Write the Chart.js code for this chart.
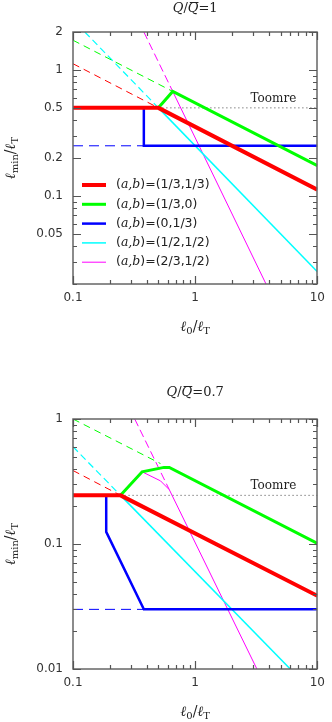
<!DOCTYPE html>
<html>
<head>
<meta charset="utf-8">
<script src="https://cdn.jsdelivr.net/npm/chart.js@4.4.0/dist/chart.umd.min.js"></script>
<style>
body{margin:0;background:#fff;}
canvas{position:absolute;left:0;}
#myChart{top:0;}
#myChart2{top:361px;}
</style>
</head>
<body>
<canvas id="myChart" width="332" height="361"></canvas>
<canvas id="myChart2" width="332" height="361"></canvas>
<script>
// tick labels
const x_ticks = [0.1, 1, 10];
const y_ticks1 = [2, 1, 0.5, 0.2, 0.1, 0.05];
const y_ticks2 = [1, 0.1, 0.01];
const ab_labels = ['(1/3,1/3)', '(1/3,0)', '(0,1/3)', '(1/2,1/2)', '(2/3,1/2)'];

// panel 1, Q/Qbar = 1   [l0/lT, lmin/lT]
const red1 = [[0.1, 0.5], [0.5, 0.5], [10, 0.112]];
const red1_dash = [[0.1, 1.12], [0.5, 0.5]];
const green1 = [[0.5, 0.5], [0.655, 0.675], [10, 0.174]];
const green1_dash = [[0.1, 1.72], [0.655, 0.675]];
const blue1 = [[0.38, 0.5], [0.38, 0.25], [10, 0.25]];
const blue1_dash = [[0.1, 0.25], [0.38, 0.25]];
const cyan1 = [[0.5, 0.5], [10, 0.025]];
const cyan1_dash = [[0.125, 2], [0.5, 0.5]];
const magenta1 = [[0.655, 0.675], [3.8, 0.02]];
const magenta1_dash = [[0.38, 2], [0.655, 0.675]];
const toomre1 = [[0.5, 0.5], [10, 0.5]];

// panel 2, Q/Qbar = 0.7
const red2 = [[0.1, 0.245], [0.245, 0.245], [10, 0.0385]];
const red2_dash = [[0.1, 0.387], [0.245, 0.245]];
const green2 = [[0.245, 0.245], [0.368, 0.378], [0.555, 0.41], [0.614, 0.41], [10, 0.101]];
const green2_dash = [[0.1, 1], [0.52, 0.44]];
const blue2 = [[0.187, 0.245], [0.187, 0.125], [0.38, 0.03], [10, 0.03]];
const blue2_dash = [[0.1, 0.03], [0.38, 0.03]];
const cyan2 = [[0.245, 0.245], [6, 0.01]];
const cyan2_dash = [[0.1, 0.6], [0.245, 0.245]];
const magenta2 = [[0.368, 0.378], [0.52, 0.32], [0.614, 0.272], [3.2, 0.01]];
const magenta2_dash = [[0.32, 1], [0.614, 0.272]];
const toomre2 = [[0.245, 0.245], [10, 0.245]];

const RED = '#ff0000', GREEN = '#00ff00', BLUE = '#0000ff', CYAN = '#00ffff', MAGENTA = '#ff00ff';

function line(pts, color, width, dash, legend){
    return {
        data: pts.map(p => ({x: p[0], y: p[1]})),
        borderColor: color,
        backgroundColor: color,
        borderWidth: width,
        borderDash: dash || [],
        pointRadius: 0,
        tension: 0,
        fill: false,
        legendLabel: legend
    };
}

function pick(v, list){
    for (const l of list) {
        if (Math.abs(v - l) / l < 1e-6) return String(l);
    }
    return '';
}

// 1..9 x 10^n values between min and max of a log scale
function logSteps(min, max){
    const out = [];
    for (let e = Math.floor(Math.log10(min)) - 1; e <= Math.ceil(Math.log10(max)); e++) {
        for (let m = 1; m <= 9; m++) {
            const v = m * Math.pow(10, e);
            if (v >= min * 0.9999 && v <= max * 1.0001) out.push(v);
        }
    }
    return out;
}

// draw a run of text pieces centred on x: [text, font, dy, overline]
function textParts(ctx, parts, x, y){
    let w = 0;
    parts.forEach(p => { ctx.font = p[1]; w += ctx.measureText(p[0]).width; });
    let cx = x - w / 2;
    parts.forEach(p => {
        ctx.font = p[1];
        const pw = ctx.measureText(p[0]).width;
        ctx.fillText(p[0], cx, y + (p[2] || 0));
        if (p[3]) ctx.fillRect(cx + 2, y - 7, pw - 2, 1);
        cx += pw;
    });
}

const SERIF = '"DejaVu Serif"';
const SANS = '"DejaVu Sans"';

const panelPlugin = {
    id: 'panel',
    afterDraw(chart){
        const opts = chart.options.plugins.panel;
        const ctx = chart.ctx;
        const a = chart.chartArea;
        const xs = chart.scales.x, ys = chart.scales.y;
        const L = Math.round(a.left), R = Math.round(a.right), T = Math.round(a.top), B = Math.round(a.bottom);
        ctx.save();
        ctx.setLineDash([]);
        // frame
        ctx.strokeStyle = '#666';
        ctx.lineWidth = 1.5;
        ctx.strokeRect(L, T, R - L, B - T);
        // inner ticks on all four sides
        ctx.lineWidth = 1.2;
        ctx.strokeStyle = '#555';
        ctx.beginPath();
        logSteps(0.1, 10).forEach(v => {
            const px = Math.round(xs.getPixelForValue(v)) + 0.5;
            const len = pick(v, x_ticks) ? 8 : 4;
            ctx.moveTo(px, B); ctx.lineTo(px, B - len);
            ctx.moveTo(px, T); ctx.lineTo(px, T + len);
        });
        logSteps(opts.ymin, opts.ymax).forEach(v => {
            const py = Math.round(ys.getPixelForValue(v)) + 0.5;
            const len = pick(v, opts.yTicks) ? 8 : 4;
            ctx.moveTo(L, py); ctx.lineTo(L + len, py);
            ctx.moveTo(R, py); ctx.lineTo(R - len, py);
        });
        ctx.stroke();

        ctx.fillStyle = '#222';
        ctx.textBaseline = 'middle';
        ctx.textAlign = 'left';
        const cx = (a.left + a.right) / 2;
        // title
        textParts(ctx, [
            ['Q', 'italic 13px ' + SERIF],
            ['/', '13px ' + SERIF],
            ['Q', 'italic 13px ' + SERIF, 0, true],
            ['=' + opts.q, '13px ' + SERIF]
        ], cx, a.top - opts.titleGap);
        // x title
        textParts(ctx, [
            ['\u2113', 'italic 14px ' + SERIF],
            ['0', '10px ' + SERIF, 4],
            ['/', '14px ' + SERIF],
            ['\u2113', 'italic 14px ' + SERIF],
            ['T', '10px ' + SERIF, 4]
        ], cx, a.bottom + 43);
        // y title
        ctx.save();
        ctx.translate(11, (a.top + a.bottom) / 2);
        ctx.rotate(-Math.PI / 2);
        textParts(ctx, [
            ['\u2113', 'italic 14px ' + SERIF],
            ['min', '10px ' + SERIF, 4],
            ['/', '14px ' + SERIF],
            ['\u2113', 'italic 14px ' + SERIF],
            ['T', '10px ' + SERIF, 4]
        ], 0, 0);
        ctx.restore();
        // Toomre label
        ctx.font = '12px ' + SERIF;
        ctx.textAlign = 'center';
        ctx.fillText('Toomre', a.right - 44, ys.getPixelForValue(opts.toomre) - 9);
        // legend
        if (opts.legend) {
            let row = 0;
            chart.data.datasets.forEach(ds => {
                if (!ds.legendLabel) return;
                const y = a.top + 153 + row * 19.3;
                ctx.strokeStyle = ds.borderColor;
                ctx.lineWidth = ds.borderWidth;
                ctx.beginPath();
                ctx.moveTo(a.left + 9, y); ctx.lineTo(a.left + 33, y);
                ctx.stroke();
                ctx.textAlign = 'left';
                let tx = a.left + 43;
                const parts = [['(', '12.5px ' + SANS], ['a,b', 'italic 12.5px ' + SERIF], [')=' + ds.legendLabel, '12.5px ' + SANS]];
                parts.forEach(p => {
                    ctx.font = p[1];
                    ctx.fillText(p[0], tx, y);
                    tx += ctx.measureText(p[0]).width;
                });
                row++;
            });
        }
        ctx.restore();
    }
};

function makeScales(ymin, ymax, yTicks, xHeight){
    return {
        x: {
            type: 'logarithmic', min: 0.1, max: 10,
            grid: {display: false, drawTicks: false}, border: {display: false},
            ticks: {autoSkip: false, maxRotation: 0, padding: 7, color: '#333', font: {family: 'DejaVu Sans', size: 12},
                callback: v => pick(v, x_ticks)},
            afterFit: s => { s.height = xHeight; }
        },
        y: {
            type: 'logarithmic', min: ymin, max: ymax,
            grid: {display: false, drawTicks: false}, border: {display: false},
            ticks: {autoSkip: false, padding: 10, color: '#333', font: {family: 'DejaVu Sans', size: 12},
                callback: v => pick(v, yTicks)},
            afterFit: s => { s.width = 73; }
        }
    };
}

const ctx = document.getElementById('myChart');
const ctx2 = document.getElementById('myChart2');

new Chart(ctx, {
    type: 'line',
    data: {
        datasets: [
            line(red1, RED, 4, null, ab_labels[0]),
            line(green1, GREEN, 3, null, ab_labels[1]),
            line(blue1, BLUE, 2.5, null, ab_labels[2]),
            line(cyan1, CYAN, 1.5, null, ab_labels[3]),
            line(magenta1, MAGENTA, 1, null, ab_labels[4]),
            line(red1_dash, RED, 1, [7, 5]),
            line(green1_dash, GREEN, 1, [7, 5]),
            line(blue1_dash, BLUE, 1, [10, 6]),
            line(cyan1_dash, CYAN, 1.2, [7, 4]),
            line(magenta1_dash, MAGENTA, 1, [8, 4]),
            line(toomre1, '#444', 1, [1, 3])
        ]
    },
    options: {
        responsive: false,
        animation: false,
        layout: {padding: {top: 32, right: 8, left: 0, bottom: 0}},
        scales: makeScales(0.02, 2, y_ticks1, 77),
        plugins: {
            legend: {display: false},
            tooltip: {enabled: false},
            panel: {q: '1', yTicks: y_ticks1, ymin: 0.02, ymax: 2, toomre: 0.5, legend: true, titleGap: 23}
        }
    },
    plugins: [panelPlugin]
});

new Chart(ctx2, {
    type: 'line',
    data: {
        datasets: [
            line(red2, RED, 4),
            line(green2, GREEN, 3),
            line(blue2, BLUE, 2.5),
            line(cyan2, CYAN, 1.5),
            line(magenta2, MAGENTA, 1),
            line(red2_dash, RED, 1, [7, 5]),
            line(green2_dash, GREEN, 1, [7, 5]),
            line(blue2_dash, BLUE, 1, [10, 6]),
            line(cyan2_dash, CYAN, 1.2, [7, 4]),
            line(magenta2_dash, MAGENTA, 1, [8, 4]),
            line(toomre2, '#444', 1, [1, 3])
        ]
    },
    options: {
        responsive: false,
        animation: false,
        layout: {padding: {top: 58, right: 8, left: 0, bottom: 0}},
        scales: makeScales(0.01, 1, y_ticks2, 53),
        plugins: {
            legend: {display: false},
            tooltip: {enabled: false},
            panel: {q: '0.7', yTicks: y_ticks2, ymin: 0.01, ymax: 1, toomre: 0.245, legend: false, titleGap: 26}
        }
    },
    plugins: [panelPlugin]
});
</script>
</body>
</html>
